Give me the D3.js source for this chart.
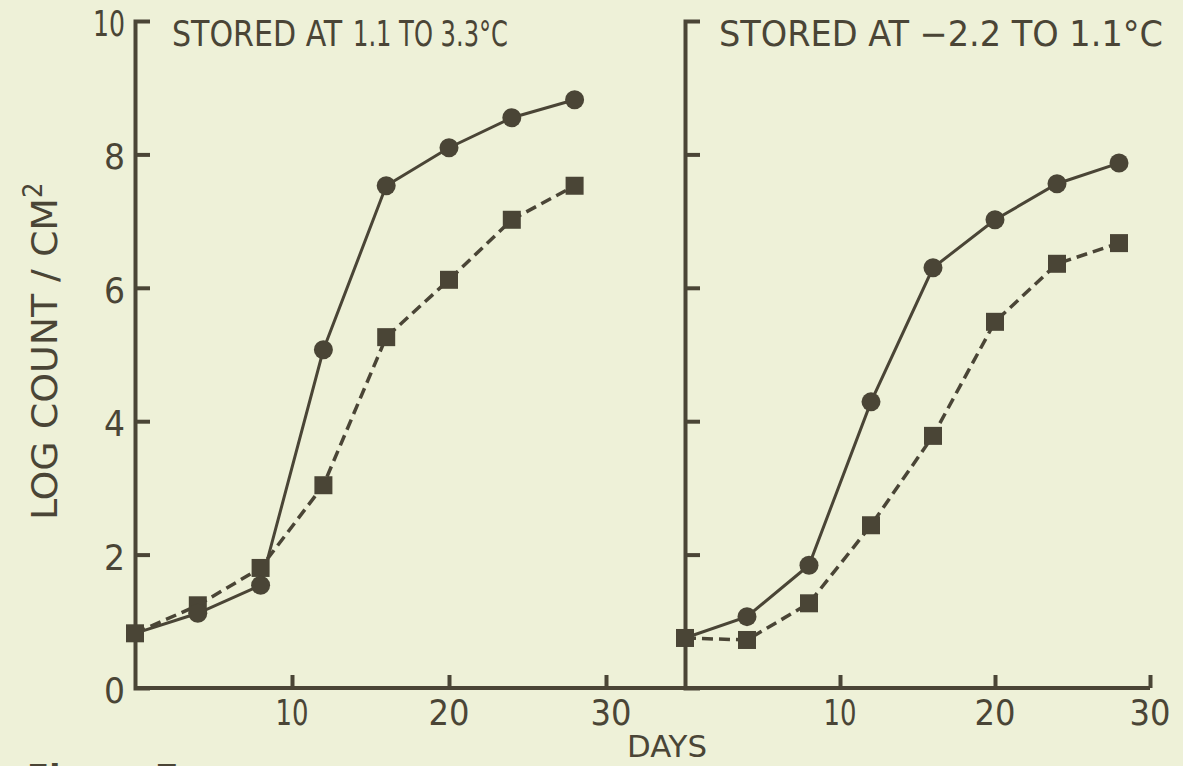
<!DOCTYPE html>
<html>
<head>
<meta charset="utf-8">
<script src="https://cdn.jsdelivr.net/npm/d3@7"></script>
<style>
    html, body { margin: 0; padding: 0; background: #eef1d8; }
    svg { display: block; }
    text { font-family: "DejaVu Sans Condensed", "DejaVu Sans", sans-serif; fill: #4a4536; }
</style>
</head>
<body>
<svg id="chart" width="1183" height="766"></svg>
<script>
var days = [0, 4, 8, 12, 16, 20, 24, 28];
var warmCircle = [0.82, 1.12, 1.54, 5.07, 7.53, 8.10, 8.55, 8.82];
var warmSquare = [0.82, 1.24, 1.80, 3.04, 5.26, 6.12, 7.02, 7.53];
var coldCircle = [0.75, 1.07, 1.84, 4.29, 6.30, 7.02, 7.56, 7.87];
var coldSquare = [0.75, 0.72, 1.27, 2.44, 3.78, 5.49, 6.36, 6.67];
var xTicks = [10, 20, 30];
var yTicks = [0, 2, 4, 6, 8, 10];
var yInner = [2, 4, 6, 8];
// title pieces: [text, x, textLength]
var titleWarm = [['STORED AT', 172, 170], ['1.1 TO 3.3°C', 353, 155]];
var titleCold = [['STORED AT −2.2 TO 1.1°C', 719, 444]];

(function(window) {
    'use strict';

    var INK = '#4a4536';
    var svg = d3.select('#chart');

    var y = d3.scaleLinear().domain([0, 10]).range([688, 21]);

    var panels = [
        { x: d3.scaleLinear().domain([0, 30]).range([135, 606]), circ: warmCircle, sq: warmSquare, title: titleWarm },
        { x: d3.scaleLinear().domain([0, 30]).range([685, 1150]), circ: coldCircle, sq: coldSquare, title: titleCold }
    ];

    /******************************************************************
        shared baseline
     ******************************************************************/
    svg.append('line')
        .attr('x1', panels[0].x(0)).attr('x2', panels[1].x(30))
        .attr('y1', y(0)).attr('y2', y(0))
        .style('stroke', INK).style('stroke-width', 4);

    panels.forEach(function(p, i) {
        var g = svg.append('g');

        // y axis, ticks turned inwards, top bracket is the outer tick
        var ya = g.append('g')
            .attr('transform', 'translate(' + p.x(0) + ',0)')
            .call(d3.axisRight(y).tickValues(yInner).tickSize(15).tickSizeOuter(15).tickFormat(''));
        ya.selectAll('path, line').style('stroke', INK).style('stroke-width', 4).style('fill', 'none');

        // x axis ticks pointing up
        var xa = g.append('g')
            .attr('transform', 'translate(0,' + y(0) + ')')
            .call(d3.axisTop(p.x).tickValues(xTicks).tickSize(13).tickSizeOuter(0).tickFormat(''));
        xa.select('.domain').remove();
        xa.selectAll('line').style('stroke', INK).style('stroke-width', 4);

        g.selectAll('.xlab')
            .data(xTicks)
            .enter().append('text')
                .attr('class', 'xlab')
                .attr('x', function(d) { return p.x(d) + (d === 30 && i === 0 ? 5 : 0); })
                .attr('y', 725)
                .attr('text-anchor', 'middle')
                .attr('textLength', function(d) { return d === 10 ? 33 : 41; })
                .attr('lengthAdjust', 'spacingAndGlyphs')
                .style('font-size', '36px')
                .text(function(d) { return d; });

        g.selectAll('.title')
            .data(p.title)
            .enter().append('text')
                .attr('class', 'title')
                .attr('x', function(d) { return d[1]; })
                .attr('y', 46)
                .attr('textLength', function(d) { return d[2]; })
                .attr('lengthAdjust', 'spacingAndGlyphs')
                .style('font-size', '35px')
                .text(function(d) { return d[0]; });

        // series
        var line = d3.line()
            .x(function(d) { return p.x(d[0]); })
            .y(function(d) { return y(d[1]); });

        var cPts = days.map(function(d, k) { return [d, p.circ[k]]; });
        var sPts = days.map(function(d, k) { return [d, p.sq[k]]; });

        g.append('path').datum(sPts)
            .attr('d', line)
            .style('fill', 'none').style('stroke', INK)
            .style('stroke-width', 3.5).style('stroke-dasharray', '11,6');

        g.append('path').datum(cPts)
            .attr('d', line)
            .style('fill', 'none').style('stroke', INK)
            .style('stroke-width', 3);

        g.selectAll('.sq')
            .data(sPts)
            .enter().append('rect')
                .attr('class', 'sq')
                .attr('x', function(d) { return p.x(d[0]) - 9; })
                .attr('y', function(d) { return y(d[1]) - 9; })
                .attr('width', 18).attr('height', 18)
                .style('fill', INK);

        g.selectAll('.ci')
            .data(cPts.slice(1))
            .enter().append('circle')
                .attr('class', 'ci')
                .attr('cx', function(d) { return p.x(d[0]); })
                .attr('cy', function(d) { return y(d[1]); })
                .attr('r', 9.5)
                .style('fill', INK);
    });

    /******************************************************************
        y labels and titles
     ******************************************************************/
    svg.selectAll('.ylab')
        .data(yTicks)
        .enter().append('text')
            .attr('class', 'ylab')
            .attr('x', 125)
            .attr('y', function(d) { return y(d) + 15; })
            .attr('text-anchor', 'end')
            .attr('textLength', function(d) { return d === 10 ? 32 : 21; })
            .attr('lengthAdjust', 'spacingAndGlyphs')
            .style('font-size', '35px')
            .text(function(d) { return d; });

    var yt = svg.append('text')
        .attr('transform', 'translate(57,520) rotate(-90)')
        .style('font-size', '35px');
    yt.append('tspan').attr('textLength', 322).attr('lengthAdjust', 'spacingAndGlyphs').text('LOG COUNT / CM');
    yt.append('tspan').attr('dy', -15).style('font-size', '27px').text('2');

    svg.append('text')
        .attr('x', 627).attr('y', 757)
        .attr('textLength', 80)
        .attr('lengthAdjust', 'spacingAndGlyphs')
        .style('font-size', '31px')
        .text('DAYS');

    svg.append('text')
        .attr('x', 27).attr('y', 790)
        .style('font-size', '36px')
        .style('font-weight', 'bold')
        .text('Figure 7.');

    window.chart = svg;
})(window);
</script>
</body>
</html>
